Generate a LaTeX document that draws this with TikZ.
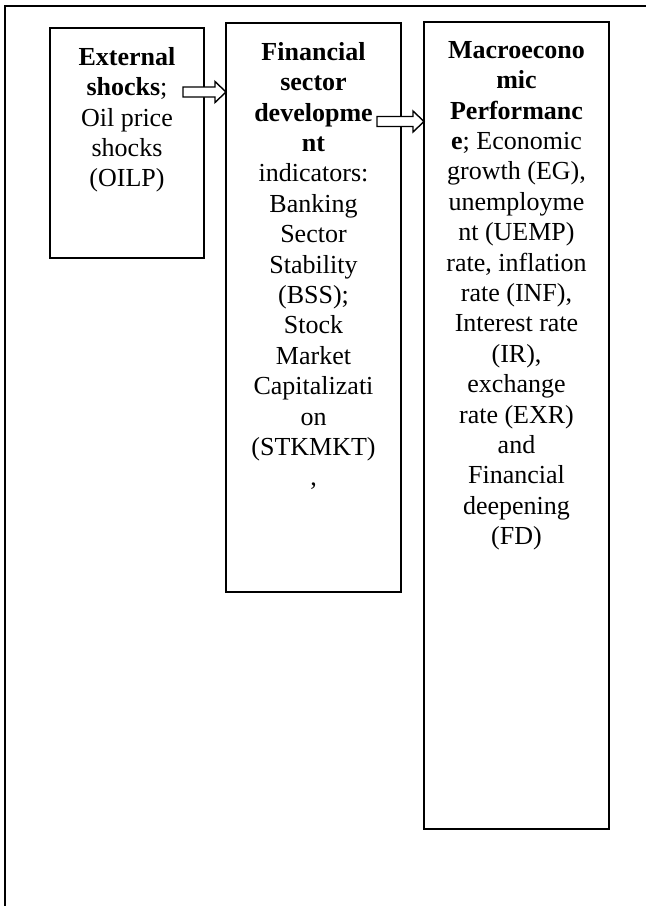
\documentclass[tikz,border=0pt]{standalone}
\usepackage{fontspec}
\setmainfont{Liberation Serif}
\usepackage{tikz}
\usetikzlibrary{positioning,calc}

\tikzset{hollow/.style={draw=black, fill=white, line width=1.4pt,
  to path={let \p1=(\tikztostart), \p2=(\tikztotarget) in
   (\x1,\y1+5pt) -- (\x2-11pt,\y1+5pt) -- (\x2-11pt,\y1+10.5pt) -- (\x2,\y1)
   -- (\x2-11pt,\y1-10.5pt) -- (\x2-11pt,\y1-5pt) -- (\x1,\y1-5pt) -- cycle}}}

\begin{document}
\begin{tikzpicture}[x=1pt, y=1pt, line width=1.5pt]
   \useasboundingbox (0,0) rectangle (646,-906);
   \draw (5,-906) -- (5,-6) -- (646,-6);
   \begin{scope}[every node/.style={draw, rectangle, inner sep=0pt, outer sep=0pt, anchor=north west}]
    \node (b1) [minimum width=154pt, minimum height=230pt] at (50,-28) {};
    \node (b2) [minimum width=175pt, minimum height=569pt] at (226,-23) {};
    \node (b3) [minimum width=185pt, minimum height=807pt] at (424,-22) {};
   \end{scope}
   \begin{scope}[every node/.style={align=center, inner sep=0pt, font=\fontsize{26}{30.4}\selectfont}]
    \node (t1) [below=18.5pt of b1.north] {\textbf{External}\\\textbf{shocks};\\Oil price\\shocks\\(OILP)};
    \node (t2) [below=18.5pt of b2.north] {\textbf{Financial}\\\textbf{sector}\\\textbf{developme}\\\textbf{nt}\\indicators:\\Banking\\Sector\\Stability\\(BSS);\\Stock\\Market\\Capitalizati\\on\\(STKMKT)\\,};
    \node (t3) [below=18.5pt of b3.north] {\textbf{Macroecono}\\\textbf{mic}\\\textbf{Performanc}\\\textbf{e}; Economic\\growth (EG),\\unemployme\\nt (UEMP)\\rate, inflation\\rate (INF),\\Interest rate\\(IR),\\exchange\\rate (EXR)\\and\\Financial\\deepening\\(FD)};
   \end{scope}
   \coordinate (a1) at ($(b1.north east)+(-21,-64)$);
   \coordinate (a2) at ($(b2.north east)+(-24,-98.5)$);
   \draw[hollow] (a1) to (b2.west |- a1);
   \draw[hollow] (a2) to (b3.west |- a2);
\end{tikzpicture}
\end{document}
